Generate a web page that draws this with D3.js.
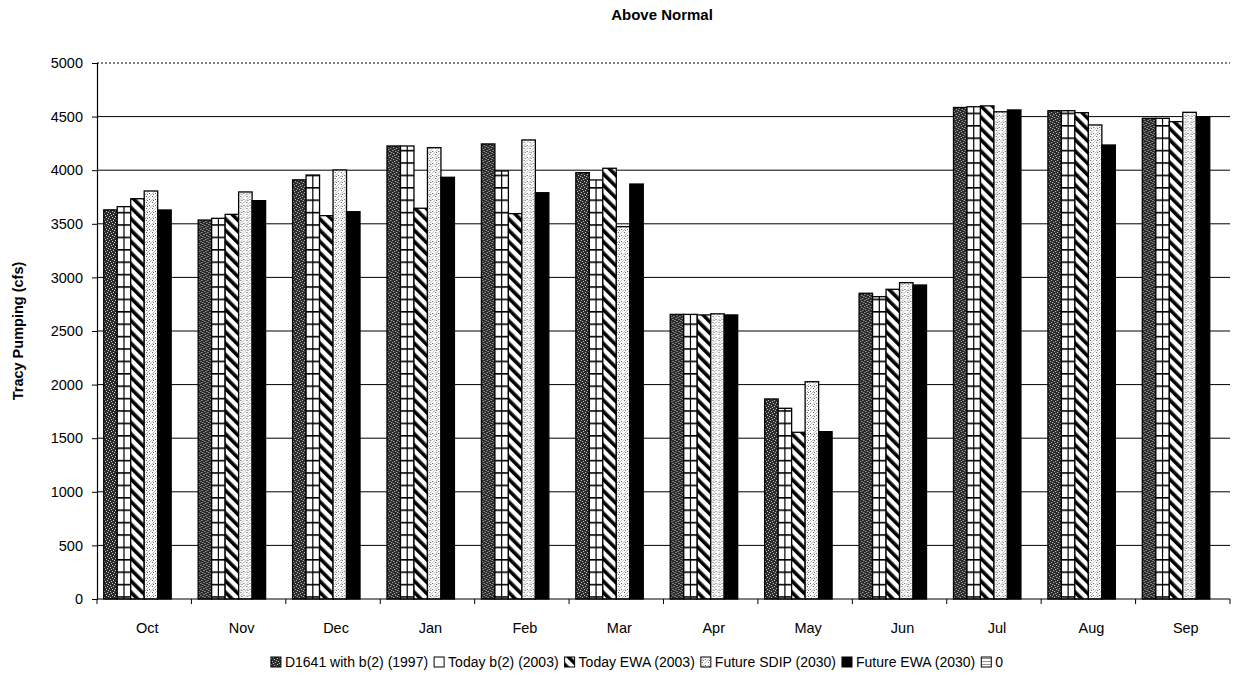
<!DOCTYPE html>
<html>
<head>
<meta charset="utf-8">
<script src="https://cdn.jsdelivr.net/npm/d3@7"></script>
<style>
  body { margin: 0; background: #fff; }
  text { font-family: "Liberation Sans", Arial, sans-serif; }
</style>
</head>
<body>
<svg id="chart" width="1238" height="695"></svg>
<script>
const months = ["Oct","Nov","Dec","Jan","Feb","Mar","Apr","May","Jun","Jul","Aug","Sep"];
const seriesNames = ["D1641 with b(2) (1997)","Today b(2) (2003)","Today EWA (2003)","Future SDIP (2030)","Future EWA (2030)","0"];
const d1641 =      [3630, 3535, 3910, 4226, 4245, 3977, 2655, 1866, 2852, 4585, 4555, 4484];
const todayB2 =    [3660, 3551, 3955, 4226, 3993, 3909, 2655, 1779, 2820, 4592, 4555, 4484];
const todayEWA =   [3734, 3588, 3576, 3645, 3595, 4018, 2650, 1555, 2889, 4600, 4537, 4453];
const futureSDIP = [3806, 3797, 4002, 4210, 4282, 3473, 2660, 2027, 2951, 4545, 4422, 4540];
const futureEWA =  [3629, 3716, 3613, 3934, 3790, 3871, 2650, 1561, 2929, 4562, 4235, 4499];
const zeroSeries = [0,0,0,0,0,0,0,0,0,0,0,0];
const yTicks = [0,500,1000,1500,2000,2500,3000,3500,4000,4500,5000];
const allSeries = [d1641, todayB2, todayEWA, futureSDIP, futureEWA, zeroSeries];

const svg = d3.select("#chart");
const margin = {top: 63, right: 8, bottom: 96, left: 97};
const W = 1238, H = 695;
const iw = W - margin.left - margin.right, ih = H - margin.top - margin.bottom;

// patterns
const defs = svg.append("defs");
const p0 = defs.append("pattern").attr("id","p0").attr("patternUnits","userSpaceOnUse").attr("width",6).attr("height",6);
p0.append("rect").attr("width",6).attr("height",6).attr("fill","#2a2a2a");
[[1,0],[4,1],[0,3],[3,4],[5,5],[2,2]].forEach(([x,y])=>p0.append("rect").attr("x",x).attr("y",y).attr("width",1).attr("height",1).attr("fill","#ccc"));
const p1 = defs.append("pattern").attr("id","p1").attr("patternUnits","userSpaceOnUse").attr("width",20).attr("height",12.4);
p1.append("rect").attr("width",20).attr("height",12.4).attr("fill","#fff");
p1.append("rect").attr("y",0).attr("width",20).attr("height",1.6).attr("fill","#000");
const p2 = defs.append("pattern").attr("id","p2").attr("patternUnits","userSpaceOnUse").attr("width",8).attr("height",8).attr("patternTransform","rotate(-45)");
p2.append("rect").attr("width",8).attr("height",8).attr("fill","#fff");
p2.append("rect").attr("width",3.6).attr("height",8).attr("fill","#000");
const p3 = defs.append("pattern").attr("id","p3").attr("patternUnits","userSpaceOnUse").attr("width",6).attr("height",6);
p3.append("rect").attr("width",6).attr("height",6).attr("fill","#fff");
p3.append("path").attr("d","M0,6 L6,0").attr("stroke","#aaa").attr("stroke-width",0.8);
[[1,1],[4,4],[2,5]].forEach(([x,y])=>p3.append("rect").attr("x",x).attr("y",y).attr("width",1).attr("height",1).attr("fill","#555"));
const p5 = defs.append("pattern").attr("id","p5").attr("patternUnits","userSpaceOnUse").attr("width",3).attr("height",3);
p5.append("rect").attr("width",3).attr("height",3).attr("fill","#fff");
p5.append("rect").attr("width",3).attr("height",0.8).attr("fill","#777");
const fills = ["url(#p0)","url(#p1)","url(#p2)","url(#p3)","#000","url(#p5)"];

const g = svg.append("g").attr("transform",`translate(${margin.left},${margin.top})`);
const x = d3.scaleBand().domain(months).range([0, iw]).padding(0);
const xs = d3.scaleBand().domain(d3.range(6)).range([0, x.bandwidth()]).paddingInner(0).paddingOuter(0.5);
const y = d3.scaleLinear().domain([0,5000]).range([ih,0]);

// gridlines
g.append("g").selectAll("line").data(yTicks.filter(t=>t>0)).join("line")
  .attr("x1",0).attr("x2",iw).attr("y1",d=>y(d)).attr("y2",d=>y(d))
  .attr("stroke","#000").attr("stroke-width",1)
  .attr("stroke-dasharray",d=>d===5000?"2,2":null);

// bars
const groups = g.append("g").selectAll("g").data(months).join("g")
  .attr("transform",d=>`translate(${x(d)},0)`);
groups.each(function(m, mi){
  const gg = d3.select(this);
  allSeries.forEach((s, si)=>{
    const v = s[mi];
    if (v <= 0) return;
    gg.append("rect").attr("x",xs(si)).attr("y",y(v)).attr("width",xs.bandwidth()).attr("height",y(0)-y(v))
      .attr("fill",fills[si]).attr("stroke","#000").attr("stroke-width",1.3);
    if (si === 1) {
      gg.append("line").attr("x1",xs(si)+xs.bandwidth()/2).attr("x2",xs(si)+xs.bandwidth()/2)
        .attr("y1",y(v)).attr("y2",y(0)).attr("stroke","#000").attr("stroke-width",1.2);
    }
  });
});

// y axis
const yAxis = g.append("g").call(d3.axisLeft(y).tickValues(yTicks).tickSize(5).tickPadding(9).tickFormat(d3.format("d")));
yAxis.select(".domain").attr("stroke","#000").attr("stroke-width",1.2);
yAxis.selectAll("text").attr("font-size",14.5).attr("fill","#000");
yAxis.selectAll("line").attr("stroke","#000");

// x axis
const xAxisG = g.append("g").attr("transform",`translate(0,${ih})`);
xAxisG.append("line").attr("x1",0).attr("x2",iw).attr("stroke","#000").attr("stroke-width",1.2);
xAxisG.selectAll("line.tk").data(d3.range(13)).join("line").attr("class","tk")
  .attr("x1",i=>i*x.step()).attr("x2",i=>i*x.step()).attr("y1",0).attr("y2",5).attr("stroke","#000");
xAxisG.selectAll("text").data(months).join("text")
  .attr("x",d=>x(d)+x.bandwidth()/2+3).attr("y",34).attr("text-anchor","middle")
  .attr("font-size",14.5).text(d=>d);

// title
svg.append("text").attr("x",662).attr("y",20).attr("text-anchor","middle")
  .attr("font-size",15).attr("font-weight","bold").text("Above Normal");
// y label
svg.append("text").attr("transform","translate(23,331) rotate(-90)").attr("text-anchor","middle")
  .attr("font-size",14.5).attr("font-weight","bold").text("Tracy Pumping (cfs)");

// legend
const leg = svg.append("g");
let cx = 0;
seriesNames.forEach((n,i)=>{
  const it = leg.append("g");
  it.append("rect").attr("x",0).attr("y",-10).attr("width",10).attr("height",10)
    .attr("fill",fills[i]).attr("stroke","#000").attr("stroke-width",1);
  const t = it.append("text").attr("x",14).attr("y",0).attr("font-size",14).text(n);
  const w = 14 + t.node().getComputedTextLength();
  it.attr("transform",`translate(${cx},0)`);
  cx += w + 6;
});
const totalW = cx - 6;
leg.attr("transform",`translate(${637 - totalW/2},667)`);
</script>
</body>
</html>
